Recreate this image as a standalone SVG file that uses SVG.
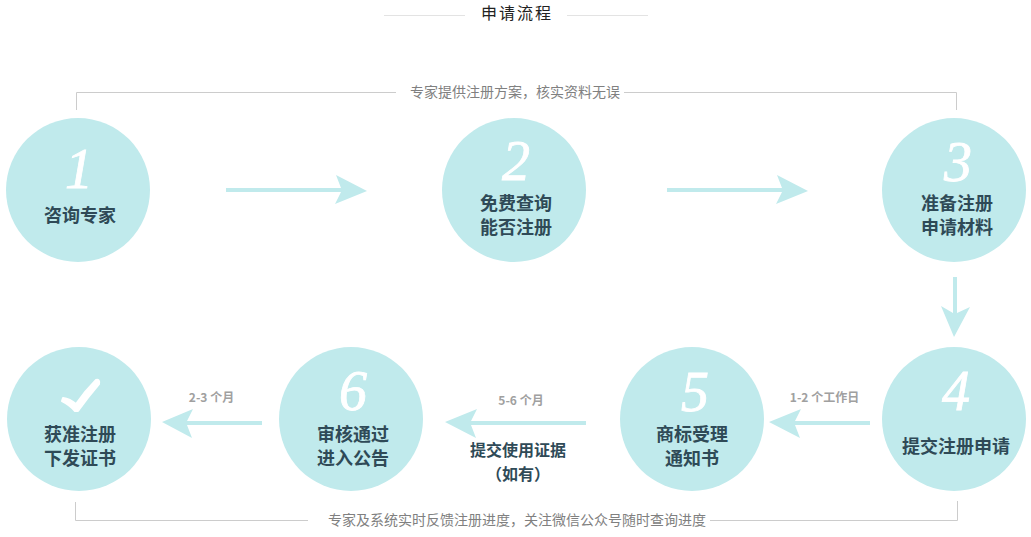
<svg xmlns="http://www.w3.org/2000/svg" width="1031" height="537" viewBox="0 0 1031 537">
<style>
text{font-family:"Noto Sans CJK SC","Noto Sans",sans-serif}
.c{fill:#c0eaec}
.n{font-size:18px;font-weight:700;fill:#2f4a57;text-anchor:middle}
.s{font-size:16px}
.d{font-family:"Liberation Serif","Noto Sans CJK SC",serif;font-size:56px;font-style:italic;font-weight:400;fill:#fff;stroke:#fff;stroke-width:.8px;text-anchor:middle}
.cap{font-size:14px;fill:#808080;text-anchor:middle}
.t{font-size:12px;font-weight:700;fill:#a0a0a0;text-anchor:middle}
.l{fill:none;stroke:#ccc;stroke-width:1}
.a{fill:#c0eaec}
</style>
<g id="title">
<path d="M384 15.500H465M567 15.500H648" fill="none" stroke="#e3e3e3"/>
<text x="517" y="19" font-size="16" text-anchor="middle" letter-spacing="2" fill="#222">申请流程</text>
</g>
<g id="connectors">
<path class="l" d="M76.500 110V92.500H396M624 92.500H956.500V110"/>
<path class="l" d="M75.500 502V520.500H308M710 520.500H957.500V501"/>
<path class="a" d="M226 188H341L336 175L367 191L335 204L341 192H226Z"/>
<path class="a" d="M667 188H782L777 175L808 191L776 204L782 192H667Z"/>
<path class="a" d="M953 277H957V313L970 307L954 337L941 306L953 313Z"/>
<path class="a" d="M870 421H795L801 409L769 422L800 438L795 425H870Z"/>
<path class="a" d="M586 421H471L477 409L445 422L476 438L471 425H586Z"/>
<path class="a" d="M262 421H187L193 409L162 422L192 438L187 425H262Z"/>
</g>
<g id="cap-top"><text class="cap" x="515" y="96.500">专家提供注册方案，核实资料无误</text></g>
<g id="cap-bottom"><text class="cap" x="517" y="525">专家及系统实时反馈注册进度，关注微信公众号随时查询进度</text></g>
<g id="node1"><circle class="c" cx="78" cy="190" r="72"/><text class="d" x="79" y="188">1</text><text class="n" x="80" y="222">咨询专家</text></g>
<g id="node2"><circle class="c" cx="514" cy="190" r="72"/><text class="d" x="516" y="180">2</text><text class="n" x="516" y="210">免费查询</text><text class="n" x="516" y="234">能否注册</text></g>
<g id="node3"><circle class="c" cx="954" cy="190" r="72"/><text class="d" x="958" y="181">3</text><text class="n" x="957" y="210">准备注册</text><text class="n" x="957" y="234">申请材料</text></g>
<g id="node4"><circle class="c" cx="954" cy="419" r="72"/><text class="d" x="956" y="410">4</text><text class="n" x="956" y="453">提交注册申请</text></g>
<g id="node5"><circle class="c" cx="692" cy="419" r="72"/><text class="d" x="695" y="411">5</text><text class="n" x="692" y="441">商标受理</text><text class="n" x="692" y="465">通知书</text></g>
<g id="node6"><circle class="c" cx="351" cy="419" r="72"/><text class="d" x="353" y="410">6</text><text class="n" x="353" y="441">审核通过</text><text class="n" x="353" y="465">进入公告</text></g>
<g id="node7"><circle class="c" cx="79" cy="419" r="72"/><path d="M63 398Q70 399 76 404Q85 391 96 380Q100 379 99 384Q87 398 78 411L75 411Q70 405 62 401Z" fill="#fff" stroke="#fff" stroke-width="2" stroke-linejoin="round"/><text class="n" x="80" y="441">获准注册</text><text class="n" x="80" y="465">下发证书</text></g>
<g id="labels">
<text class="t" x="211.500" y="402">2-3 个月</text>
<text class="t" x="521" y="405">5-6 个月</text>
<text class="t" x="824.500" y="402">1-2 个工作日</text>
<text class="n s" x="518" y="456">提交使用证据</text>
<text class="n s" x="518" y="480">（如有）</text>
</g>
</svg>
